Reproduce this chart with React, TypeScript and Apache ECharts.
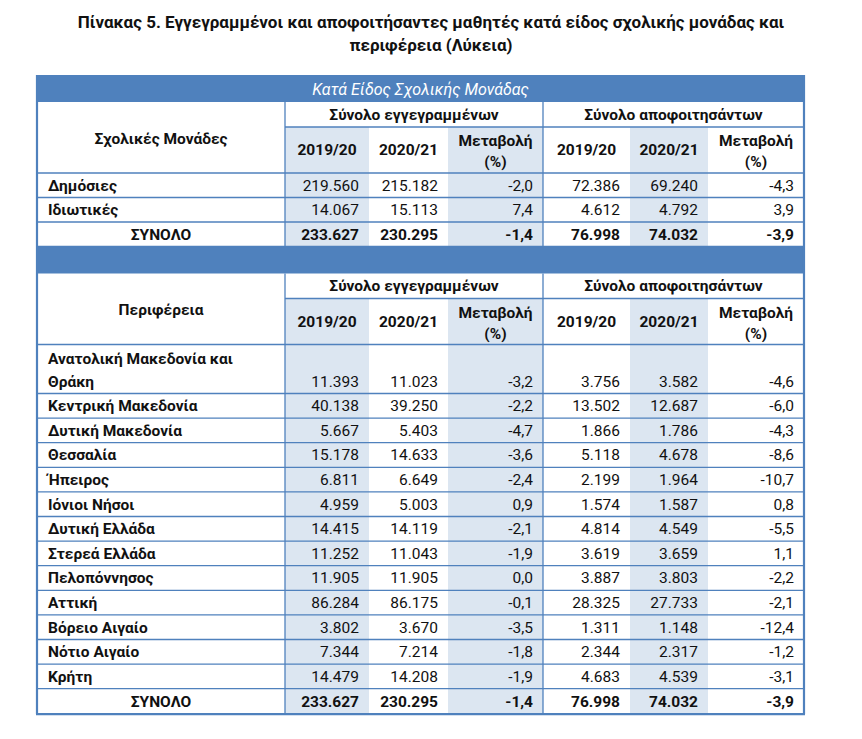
import React, { useEffect, useRef } from "react";
import * as echarts from "echarts";

// ---- data ----
const titleLines = [
  "Πίνακας 5. Εγγεγραμμένοι και αποφοιτήσαντες μαθητές κατά είδος σχολικής μονάδας και",
  "περιφέρεια (Λύκεια)",
];
const bandTitle = "Κατά Είδος Σχολικής Μονάδας";
const groupHeaders = ["Σύνολο εγγεγραμμένων", "Σύνολο αποφοιτησάντων"];
const yearHeaders = ["2019/20", "2020/21"];
const changeHeader = ["Μεταβολή", "(%)"];
const totalLabel = "ΣΥΝΟΛΟ";

const schoolTypes = ["Δημόσιες", "Ιδιωτικές"];
const schoolEnr1920 = [219560, 14067];
const schoolEnr2021 = [215182, 15113];
const schoolEnrChg = [-2.0, 7.4];
const schoolGrd1920 = [72386, 4612];
const schoolGrd2021 = [69240, 4792];
const schoolGrdChg = [-4.3, 3.9];

const regions = [
  ["Ανατολική Μακεδονία και", "Θράκη"],
  ["Κεντρική Μακεδονία"],
  ["Δυτική Μακεδονία"],
  ["Θεσσαλία"],
  ["Ήπειρος"],
  ["Ιόνιοι Νήσοι"],
  ["Δυτική Ελλάδα"],
  ["Στερεά Ελλάδα"],
  ["Πελοπόννησος"],
  ["Αττική"],
  ["Βόρειο Αιγαίο"],
  ["Νότιο Αιγαίο"],
  ["Κρήτη"],
];
const regionEnr1920 = [11393, 40138, 5667, 15178, 6811, 4959, 14415, 11252, 11905, 86284, 3802, 7344, 14479];
const regionEnr2021 = [11023, 39250, 5403, 14633, 6649, 5003, 14119, 11043, 11905, 86175, 3670, 7214, 14208];
const regionEnrChg = [-3.2, -2.2, -4.7, -3.6, -2.4, 0.9, -2.1, -1.9, 0.0, -0.1, -3.5, -1.8, -1.9];
const regionGrd1920 = [3756, 13502, 1866, 5118, 2199, 1574, 4814, 3619, 3887, 28325, 1311, 2344, 4683];
const regionGrd2021 = [3582, 12687, 1786, 4678, 1964, 1587, 4549, 3659, 3803, 27733, 1148, 2317, 4539];
const regionGrdChg = [-4.6, -6.0, -4.3, -8.6, -10.7, 0.8, -5.5, 1.1, -2.2, -2.1, -12.4, -1.2, -3.1];

const totalEnr1920 = 233627;
const totalEnr2021 = 230295;
const totalEnrChg = -1.4;
const totalGrd1920 = 76998;
const totalGrd2021 = 74032;
const totalGrdChg = -3.9;

// ---- layout / style ----
const BLUE = "#4f81bd";
const SHADE = "#dce6f1";
const TEXT = "#111111";
const FONT = "Roboto, 'Noto Sans', sans-serif";
const FS = 15.5;
const colX = [37, 285, 369, 448, 543, 630, 708, 804];
const shadedCols = [1, 3, 5];
const PAD = 10;

const fmtInt = (n: number) => String(n).replace(/\B(?=(\d{3})+(?!\d))/g, ".");
const fmtPct = (n: number) => n.toFixed(1).replace(".", ",");

function buildGraphics() {
  const g: any[] = [];
  const text = (t: string, x: number, y: number, opts: any = {}) =>
    g.push({
      type: "text",
      x,
      y,
      z: 10,
      style: {
        text: t,
        fill: opts.fill || TEXT,
        fontSize: opts.fontSize || FS,
        fontWeight: opts.bold ? "bold" : "normal",
        fontStyle: opts.italic ? "italic" : "normal",
        fontFamily: FONT,
        align: opts.align || "left",
        verticalAlign: "middle",
      },
    });
  const rect = (x: number, y: number, w: number, h: number, fill: string, z = 1) =>
    g.push({ type: "rect", z, shape: { x, y, width: w, height: h }, style: { fill } });
  const line = (x1: number, y1: number, x2: number, y2: number, w = 1.3, z = 5) =>
    g.push({ type: "line", z, shape: { x1, y1, x2, y2 }, style: { stroke: BLUE, lineWidth: w } });

  // title
  text(titleLines[0], 431, 22, { bold: true, align: "center", fontSize: 17 });
  text(titleLines[1], 431, 45, { bold: true, align: "center", fontSize: 17 });

  const L = colX[0];
  const R = colX[colX.length - 1];

  const header = (top: number, nameHeader: string, bandText: string) => {
    const bandB = top + 27;
    const subB = bandB + 25;
    const yearB = subB + 46;
    rect(L, top, R - L, bandB - top, BLUE, 2);
    if (bandText) text(bandText, (L + R) / 2, (top + bandB) / 2 + 1, { fill: "#ffffff", italic: true, align: "center", fontSize: 16 });
    shadedCols.forEach((c) => rect(colX[c], subB, colX[c + 1] - colX[c], yearB - subB, SHADE));
    text(groupHeaders[0], (colX[1] + colX[4]) / 2, (bandB + subB) / 2, { bold: true, align: "center" });
    text(groupHeaders[1], (colX[4] + colX[7]) / 2, (bandB + subB) / 2, { bold: true, align: "center" });
    line(colX[1], subB, R, subB);
    text(nameHeader, (colX[0] + colX[1]) / 2, (bandB + yearB) / 2 + 1, { bold: true, align: "center" });
    [1, 2, 4, 5].forEach((c, i) =>
      text(yearHeaders[i % 2], (colX[c] + colX[c + 1]) / 2, (subB + yearB) / 2, { bold: true, align: "center" })
    );
    [3, 6].forEach((c) => {
      text(changeHeader[0], (colX[c] + colX[c + 1]) / 2, subB + 14, { bold: true, align: "center" });
      text(changeHeader[1], (colX[c] + colX[c + 1]) / 2, subB + 35, { bold: true, align: "center" });
    });
    line(L, yearB, R, yearB);
    return yearB;
  };

  const dataRow = (top: number, h: number, names: string[], vals: string[], bold: boolean, center = false) => {
    const bottom = top + h;
    shadedCols.forEach((c) => rect(colX[c], top, colX[c + 1] - colX[c], h, SHADE));
    const lastY = bottom - 12;
    names.forEach((n, i) => {
      const y = lastY - (names.length - 1 - i) * 23;
      if (center) text(n, (colX[0] + colX[1]) / 2, y, { bold: true, align: "center" });
      else text(n, L + 11, y, { bold: true });
    });
    vals.forEach((v, i) => text(v, colX[i + 2] - PAD, lastY, { bold, align: "right" }));
    line(L, bottom, R, bottom);
    return bottom;
  };

  const totalVals = [
    fmtInt(totalEnr1920), fmtInt(totalEnr2021), fmtPct(totalEnrChg),
    fmtInt(totalGrd1920), fmtInt(totalGrd2021), fmtPct(totalGrdChg),
  ];

  // ---- table 1 ----
  const t1Top = 75;
  let y = header(t1Top, "Σχολικές Μονάδες", bandTitle);
  schoolTypes.forEach((s, i) => {
    y = dataRow(y, 24.5, [s], [
      fmtInt(schoolEnr1920[i]), fmtInt(schoolEnr2021[i]), fmtPct(schoolEnrChg[i]),
      fmtInt(schoolGrd1920[i]), fmtInt(schoolGrd2021[i]), fmtPct(schoolGrdChg[i]),
    ], false);
  });
  y = dataRow(y, 24.5, [totalLabel], totalVals, true, true);
  line(colX[1], t1Top + 27, colX[1], y);
  line(colX[4], t1Top + 27, colX[4], y);

  // ---- table 2 ----
  const t2Top = y;
  y = header(t2Top, "Περιφέρεια", "");
  regions.forEach((r, i) => {
    y = dataRow(y, r.length > 1 ? 49 : 24.6, r, [
      fmtInt(regionEnr1920[i]), fmtInt(regionEnr2021[i]), fmtPct(regionEnrChg[i]),
      fmtInt(regionGrd1920[i]), fmtInt(regionGrd2021[i]), fmtPct(regionGrdChg[i]),
    ], false);
  });
  y = dataRow(y, 25.5, [totalLabel], totalVals, true, true);
  line(colX[1], t2Top + 27, colX[1], y);
  line(colX[4], t2Top + 27, colX[4], y);

  // outer border
  line(L, t1Top, L, y, 2.2, 6);
  line(R, t1Top, R, y, 2.2, 6);
  line(L - 1, y, R + 1, y, 2.2, 6);
  return g;
}

export default function App() {
  const ref = useRef<HTMLDivElement>(null);
  useEffect(() => {
    if (!ref.current) return;
    const chart = echarts.init(ref.current, null, { renderer: "svg" });
    chart.setOption({
      animation: false,
      backgroundColor: "#ffffff",
      graphic: { elements: buildGraphics() },
    });
    return () => chart.dispose();
  }, []);
  return (
    <div
      ref={ref}
      style={{ position: "fixed", left: 0, top: 0, width: 862, height: 739, background: "#fff" }}
    />
  );
}
